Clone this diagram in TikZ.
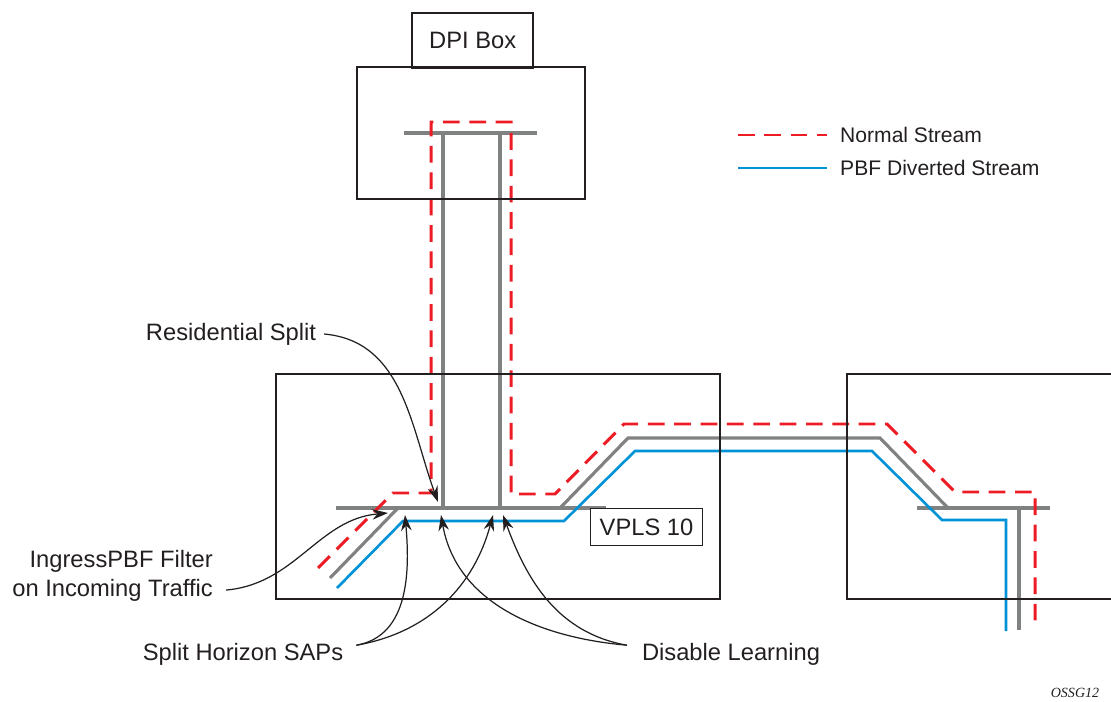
\documentclass[tikz,border=0pt]{standalone}
\usepackage{fontspec}
\setmainfont{Liberation Sans}
\newfontfamily\tagfont{Liberation Serif}
\usetikzlibrary{arrows.meta}
\definecolor{normred}{RGB}{237,28,36}
\definecolor{pbfblue}{RGB}{0,146,214}
\definecolor{bargray}{RGB}{128,130,130}
\definecolor{ink}{RGB}{35,31,32}

\begin{document}
\begin{tikzpicture}[x=0.02cm,y=-0.02cm,
    box/.style={draw=ink,line width=1.4pt},
    bar/.style={draw=bargray,line width=2.3pt},
    pipe/.style={draw=bargray,line width=1.8pt},
    normal/.style={draw=normred,line width=1.7pt,dash pattern=on 9.5pt off 5.5pt},
    diverted/.style={draw=pbfblue,line width=1.5pt},
    callout/.style={draw=ink,line width=0.7pt,-{Stealth[length=9pt,width=6pt]}},
    lbl/.style={text=ink,font=\fontsize{13.5}{16.5}\selectfont},
    legend/.style={text=ink,font=\fontsize{12}{14}\selectfont}]
    \useasboundingbox (0,0) rectangle (1111,702);
    % Gray service bars and pipes
    \draw[bar] (404,133) -- (537,133);
    \draw[pipe] (443,133) -- (443,508);
    \draw[pipe] (500,133) -- (500,508);
    \draw[bar] (336,508) -- (606,508);
    \draw[pipe] (330,578) -- (398,508);
    \draw[pipe] (560,508) -- (628,438) -- (880,438) -- (948,508);
    \draw[bar] (917,508) -- (1050,508);
    \draw[pipe] (1019,508) -- (1019,630);
    % PBF diverted stream
    \draw[diverted] (337,588) -- (403,521) -- (564,521) -- (635,451) -- (872,451) -- (942,520) -- (1006,520) -- (1006,631);
    % Normal stream
    \draw[normal] (318,568) -- (393,493) -- (431,493) -- (431,122) -- (511,122) -- (511,494) -- (555,494) -- (624,424) -- (887,424) -- (955,492) -- (1035,492) -- (1035,629);
    % Boxes
    \draw[box] (357,67) rectangle (585,199);
    \node[box,lbl,anchor=north west,minimum width=2.42cm,minimum height=1.1cm] (dpi) at (411,12) {DPI Box};
    \draw[box] (276,374) rectangle (720,599);
    \draw[box] (1115,374) -- (847,374) -- (847,599) -- (1115,599);
    \node[draw=ink,line width=0.6pt,fill=white,lbl,anchor=north west,minimum width=2.24cm,minimum height=0.74cm] (vpls) at (590,508) {VPLS 10};
    % Legend
    \draw[normal] (738,135) -- (827,135);
    \node[legend,anchor=west] (normlbl) at (834,135) {Normal Stream};
    \draw[diverted] (738,168) -- (827,168);
    \node[legend,anchor=west] (divlbl) at (834,168) {PBF Diverted Stream};
    % Callouts
    \node[lbl] (resid) at (231,334) {Residential Split};
    \node[lbl,align=right,anchor=east] (ingress) at (219,576) {IngressPBF Filter\\on Incoming Traffic};
    \node[lbl] (shsap) at (243,654) {Split Horizon SAPs};
    \node[lbl] (dislearn) at (731,654) {Disable Learning};
    \coordinate (residtip) at (438,502);
    \coordinate (ingresstip) at (388,513);
    \coordinate (saptipa) at (405,515);
    \coordinate (saptipb) at (493,515);
    \coordinate (learntipa) at (441,515);
    \coordinate (learntipb) at (503,515);
    \draw[callout] ([xshift=1pt]resid.east) to[out=-5,in=110] (residtip);
    \draw[callout] ([xshift=4pt,yshift=-8pt]ingress.east) to[out=5,in=185] (ingresstip);
    \draw[callout] ([xshift=4pt,yshift=5pt]shsap.east) to[out=10,in=-85] (saptipa);
    \draw[callout] ([xshift=4pt,yshift=5pt]shsap.east) to[out=10,in=-105] (saptipb);
    \draw[callout] ([xshift=-5pt,yshift=5pt]dislearn.west) to[out=175,in=-80] (learntipa);
    \draw[callout] ([xshift=-5pt,yshift=5pt]dislearn.west) to[out=170,in=-70] (learntipb);
    \node[font=\tagfont\itshape\fontsize{8}{10}\selectfont,text=ink] (tag) at (1075,693) {OSSG12};
\end{tikzpicture}
\end{document}
